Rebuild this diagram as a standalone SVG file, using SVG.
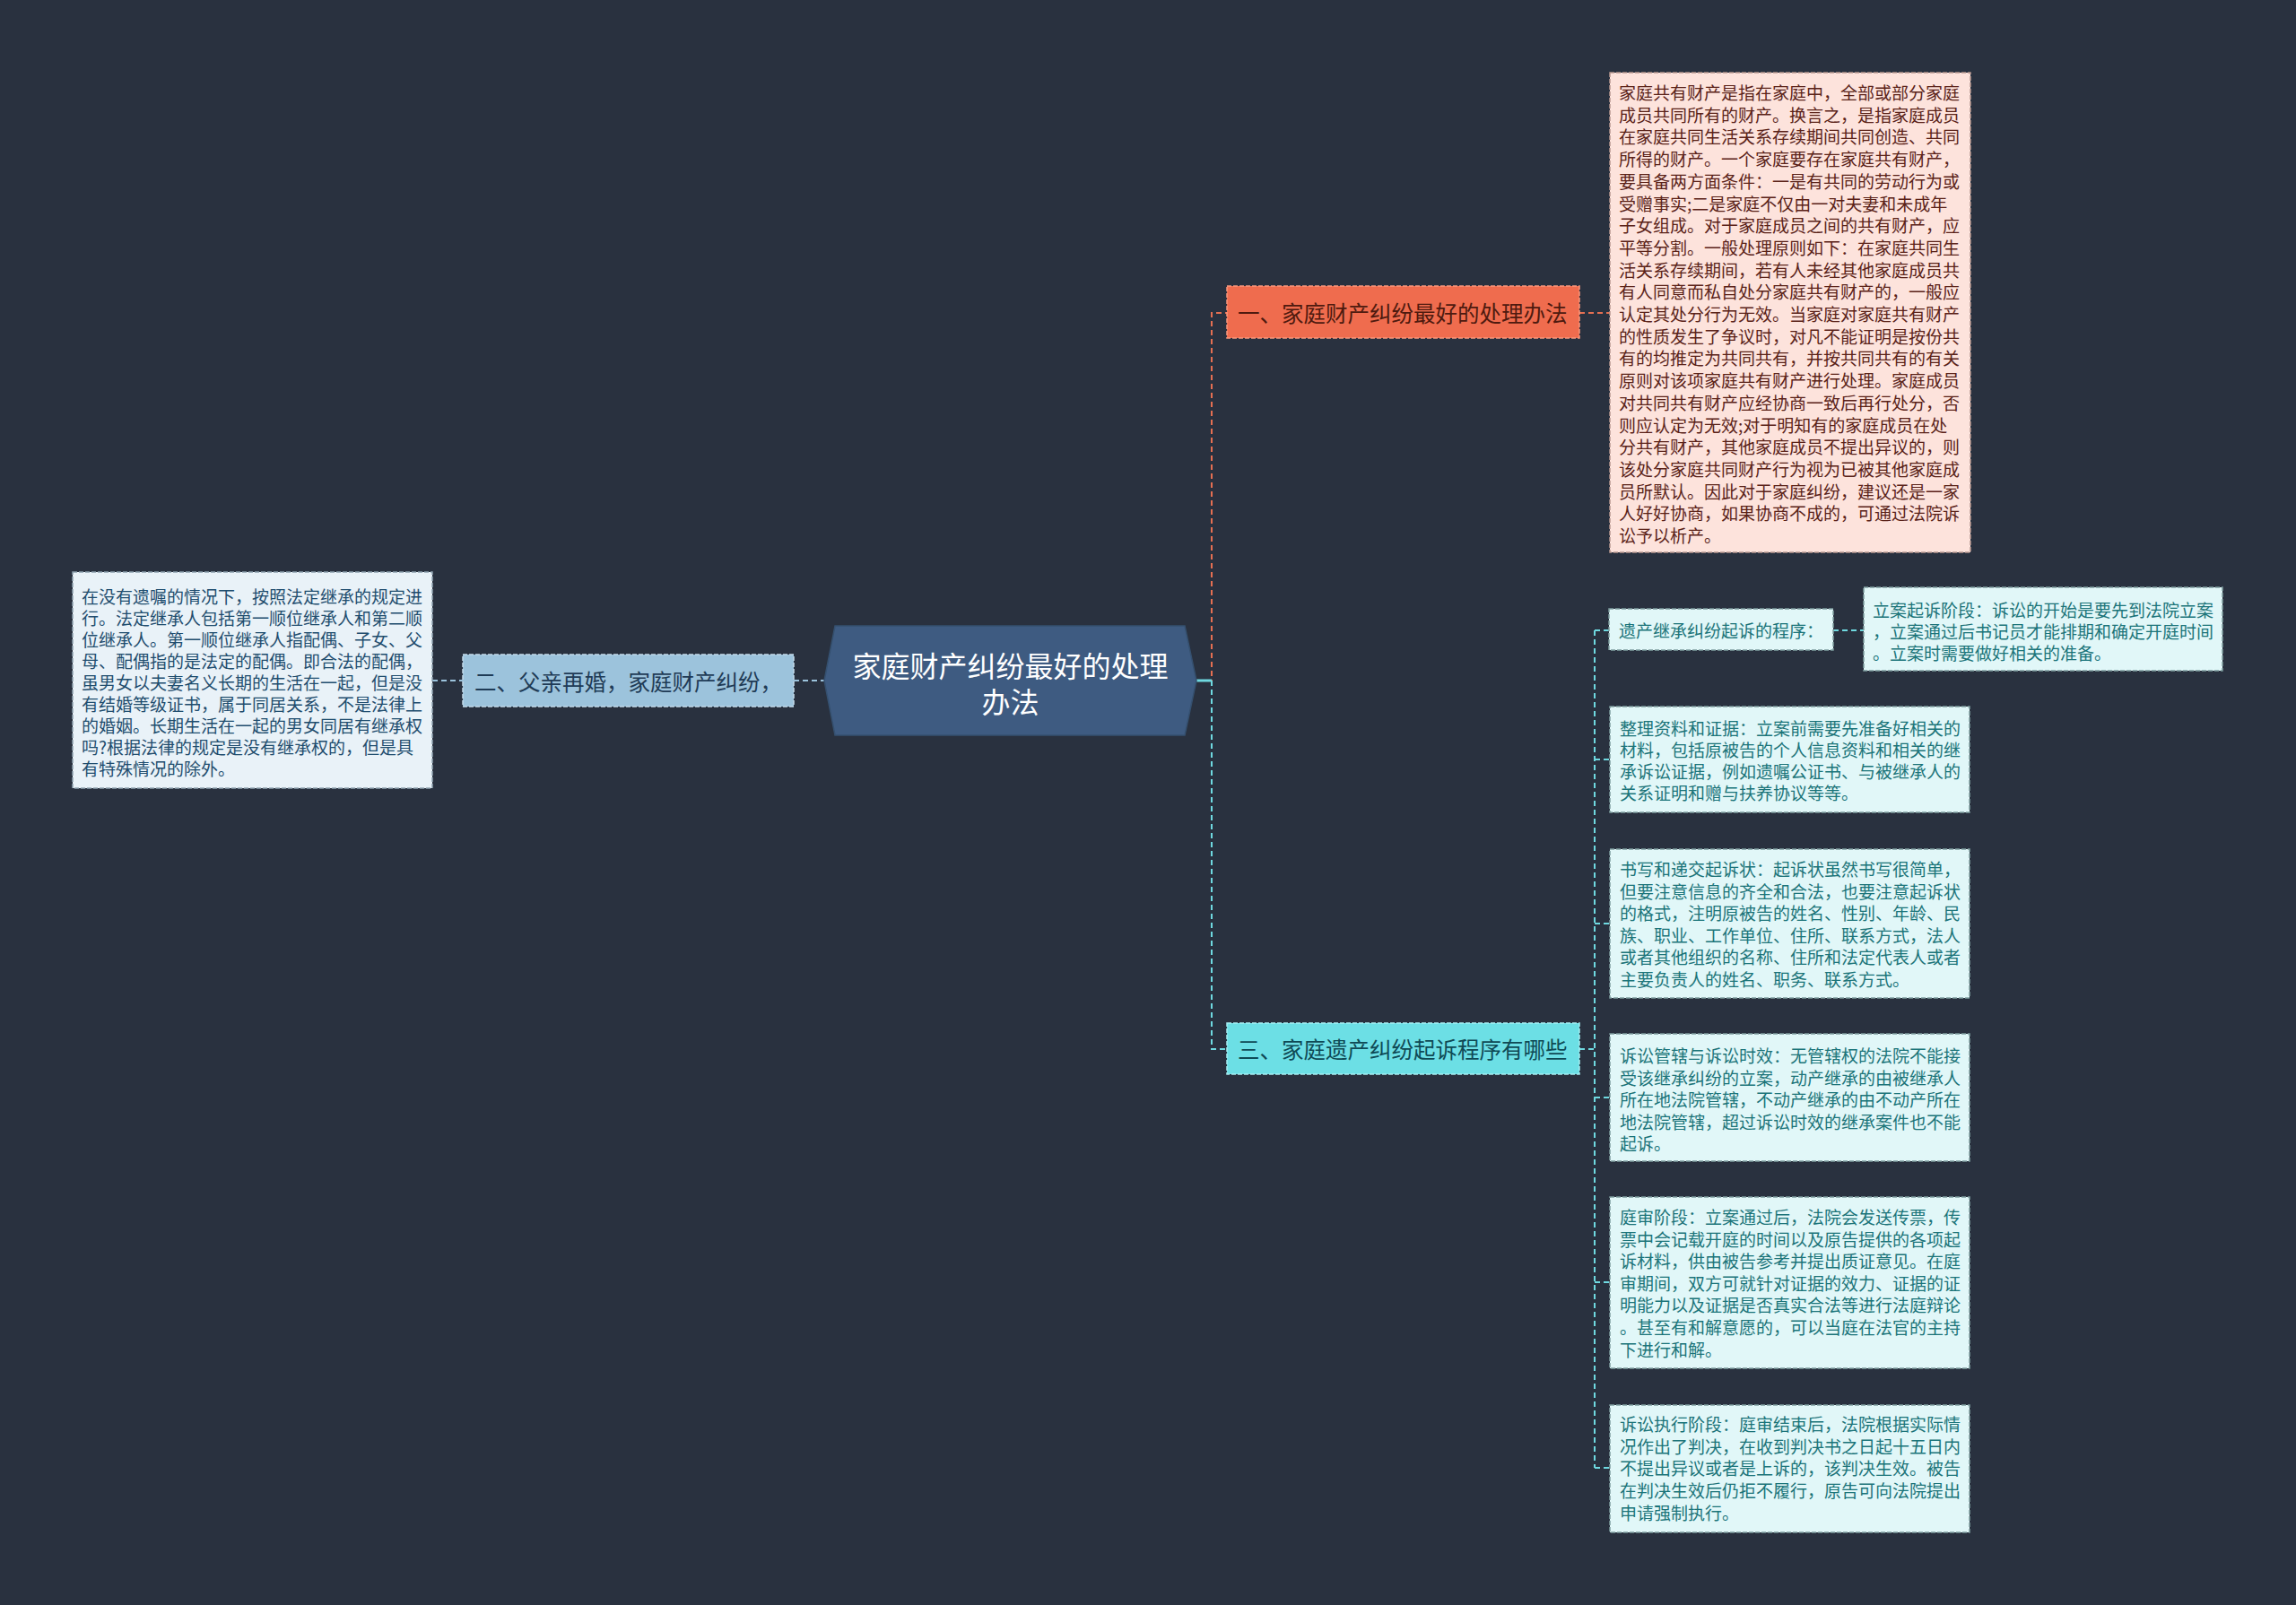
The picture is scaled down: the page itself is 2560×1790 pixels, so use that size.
<svg xmlns="http://www.w3.org/2000/svg" width="2560" height="1790" viewBox="0 0 2560 1790">
<style>
text{font-family:"Noto Sans CJK SC","Noto Sans",sans-serif;dominant-baseline:central}
.leaf{font-size:19px}
.pinkt{fill:#5a2218}
.cyant{fill:#1b7479}
.bluet{fill:#1f4d6e}
.box{stroke-dasharray:5 2;stroke-width:1.5}
.pink{fill:#fde3dc;stroke:#b89890}
.cyan{fill:#e1f7f8;stroke:#7f9ea0}
.lblue{fill:#e9f2f8;stroke:#8fa2b0}
.con{fill:none;stroke-width:2;stroke-dasharray:6 4}
</style>
<rect width="2560" height="1790" fill="#29313f"/>
<g id="connectors">
<path class="con" stroke="#e46f52" d="M1336 759 H1351 V349 H1368"/>
<path class="con" stroke="#6fd9e0" d="M1351 759 V1170 H1368"/>
<path fill="none" stroke="#6fd9e0" stroke-width="3" d="M1334 759 H1351"/>
<path class="con" stroke="#e46f52" d="M1761 349 H1795"/>
<path class="con" stroke="#9cc3dc" stroke-width="3" d="M885 759 H919"/>
<path class="con" stroke="#9cc3dc" d="M482 759 H516"/>
<path class="con" stroke="#6fd9e0" d="M1761 1170 H1778 M1778 703 V1637 M1778 703 H1794 M2044 703 H2078 M1778 847 H1795 M1778 1030 H1795 M1778 1224 H1795 M1778 1430 H1795 M1778 1637 H1795"/>
</g>
<g id="root">
<polygon points="931,698 1321,698 1334,759 1321,820 931,820 919,759" fill="#3e5b81" stroke="#35506f" stroke-width="1.5"/>
<text x="1126.5" y="741" font-size="32" fill="#ffffff" text-anchor="middle">家庭财产纠纷最好的处理</text>
<text x="1126.5" y="781" font-size="32" fill="#ffffff" text-anchor="middle">办法</text>
</g>
<g id="node1">
<rect x="1368" y="319" width="393" height="58" fill="#ef6c4e" stroke="#f7987f" class="box"/>
<text x="1380" y="348" font-size="24.5" fill="#4e1a0f">一、家庭财产纠纷最好的处理办法</text>
</g>
<g id="node1-detail">
<rect x="1795" y="81" width="402" height="535" class="box pink"/>
<text class="leaf pinkt">
<tspan x="1805" y="102">家庭共有财产是指在家庭中，全部或部分家庭</tspan>
<tspan x="1805" y="126.7">成员共同所有的财产。换言之，是指家庭成员</tspan>
<tspan x="1805" y="151.4">在家庭共同生活关系存续期间共同创造、共同</tspan>
<tspan x="1805" y="176.1">所得的财产。一个家庭要存在家庭共有财产，</tspan>
<tspan x="1805" y="200.8">要具备两方面条件：一是有共同的劳动行为或</tspan>
<tspan x="1805" y="225.5">受赠事实;二是家庭不仅由一对夫妻和未成年</tspan>
<tspan x="1805" y="250.2">子女组成。对于家庭成员之间的共有财产，应</tspan>
<tspan x="1805" y="274.9">平等分割。一般处理原则如下：在家庭共同生</tspan>
<tspan x="1805" y="299.6">活关系存续期间，若有人未经其他家庭成员共</tspan>
<tspan x="1805" y="324.3">有人同意而私自处分家庭共有财产的，一般应</tspan>
<tspan x="1805" y="349">认定其处分行为无效。当家庭对家庭共有财产</tspan>
<tspan x="1805" y="373.7">的性质发生了争议时，对凡不能证明是按份共</tspan>
<tspan x="1805" y="398.4">有的均推定为共同共有，并按共同共有的有关</tspan>
<tspan x="1805" y="423.1">原则对该项家庭共有财产进行处理。家庭成员</tspan>
<tspan x="1805" y="447.8">对共同共有财产应经协商一致后再行处分，否</tspan>
<tspan x="1805" y="472.5">则应认定为无效;对于明知有的家庭成员在处</tspan>
<tspan x="1805" y="497.2">分共有财产，其他家庭成员不提出异议的，则</tspan>
<tspan x="1805" y="521.9">该处分家庭共同财产行为视为已被其他家庭成</tspan>
<tspan x="1805" y="546.6">员所默认。因此对于家庭纠纷，建议还是一家</tspan>
<tspan x="1805" y="571.3">人好好协商，如果协商不成的，可通过法院诉</tspan>
<tspan x="1805" y="596">讼予以析产。</tspan>
</text>
</g>
<g id="node2">
<rect x="516" y="730" width="369" height="58" fill="#9cc3dc" stroke="#c4dcec" class="box"/>
<text x="529" y="759" font-size="24.5" fill="#1f3b56">二、父亲再婚，家庭财产纠纷，</text>
</g>
<g id="node2-detail">
<rect x="81" y="638" width="401" height="241" class="box lblue"/>
<text class="leaf bluet">
<tspan x="91" y="664">在没有遗嘱的情况下，按照法定继承的规定进</tspan>
<tspan x="91" y="688">行。法定继承人包括第一顺位继承人和第二顺</tspan>
<tspan x="91" y="712">位继承人。第一顺位继承人指配偶、子女、父</tspan>
<tspan x="91" y="736">母、配偶指的是法定的配偶。即合法的配偶，</tspan>
<tspan x="91" y="760">虽男女以夫妻名义长期的生活在一起，但是没</tspan>
<tspan x="91" y="784">有结婚等级证书，属于同居关系，不是法律上</tspan>
<tspan x="91" y="808">的婚姻。长期生活在一起的男女同居有继承权</tspan>
<tspan x="91" y="832">吗?根据法律的规定是没有继承权的，但是具</tspan>
<tspan x="91" y="856">有特殊情况的除外。</tspan>
</text>
</g>
<g id="node3">
<rect x="1368" y="1141" width="393" height="57" fill="#6cdfe5" stroke="#a5eef2" class="box"/>
<text x="1380" y="1169" font-size="24.5" fill="#0f4a55">三、家庭遗产纠纷起诉程序有哪些</text>
</g>
<g id="node3-1">
<rect x="1794" y="679" width="250" height="46" class="box cyan"/>
<text x="1805" y="702" class="leaf cyant">遗产继承纠纷起诉的程序：</text>
</g>
<g id="node3-1-1">
<rect x="2078" y="655" width="400" height="93" class="box cyan"/>
<text class="leaf cyant">
<tspan x="2088" y="679">立案起诉阶段：诉讼的开始是要先到法院立案</tspan>
<tspan x="2088" y="703">，立案通过后书记员才能排期和确定开庭时间</tspan>
<tspan x="2088" y="727">。立案时需要做好相关的准备。</tspan>
</text>
</g>
<g id="node3-2">
<rect x="1795" y="788" width="401" height="118" class="box cyan"/>
<text class="leaf cyant">
<tspan x="1806" y="811">整理资料和证据：立案前需要先准备好相关的</tspan>
<tspan x="1806" y="835">材料，包括原被告的个人信息资料和相关的继</tspan>
<tspan x="1806" y="859">承诉讼证据，例如遗嘱公证书、与被继承人的</tspan>
<tspan x="1806" y="883">关系证明和赠与扶养协议等等。</tspan>
</text>
</g>
<g id="node3-3">
<rect x="1795" y="947" width="401" height="166" class="box cyan"/>
<text class="leaf cyant">
<tspan x="1806" y="968">书写和递交起诉状：起诉状虽然书写很简单，</tspan>
<tspan x="1806" y="992.6">但要注意信息的齐全和合法，也要注意起诉状</tspan>
<tspan x="1806" y="1017.2">的格式，注明原被告的姓名、性别、年龄、民</tspan>
<tspan x="1806" y="1041.8">族、职业、工作单位、住所、联系方式，法人</tspan>
<tspan x="1806" y="1066.4">或者其他组织的名称、住所和法定代表人或者</tspan>
<tspan x="1806" y="1091">主要负责人的姓名、职务、联系方式。</tspan>
</text>
</g>
<g id="node3-4">
<rect x="1795" y="1153" width="401" height="142" class="box cyan"/>
<text class="leaf cyant">
<tspan x="1806" y="1176">诉讼管辖与诉讼时效：无管辖权的法院不能接</tspan>
<tspan x="1806" y="1200.5">受该继承纠纷的立案，动产继承的由被继承人</tspan>
<tspan x="1806" y="1225">所在地法院管辖，不动产继承的由不动产所在</tspan>
<tspan x="1806" y="1249.5">地法院管辖，超过诉讼时效的继承案件也不能</tspan>
<tspan x="1806" y="1274">起诉。</tspan>
</text>
</g>
<g id="node3-5">
<rect x="1795" y="1335" width="401" height="191" class="box cyan"/>
<text class="leaf cyant">
<tspan x="1806" y="1356">庭审阶段：立案通过后，法院会发送传票，传</tspan>
<tspan x="1806" y="1380.6">票中会记载开庭的时间以及原告提供的各项起</tspan>
<tspan x="1806" y="1405.2">诉材料，供由被告参考并提出质证意见。在庭</tspan>
<tspan x="1806" y="1429.8">审期间，双方可就针对证据的效力、证据的证</tspan>
<tspan x="1806" y="1454.4">明能力以及证据是否真实合法等进行法庭辩论</tspan>
<tspan x="1806" y="1479">。甚至有和解意愿的，可以当庭在法官的主持</tspan>
<tspan x="1806" y="1503.6">下进行和解。</tspan>
</text>
</g>
<g id="node3-6">
<rect x="1795" y="1567" width="401" height="142" class="box cyan"/>
<text class="leaf cyant">
<tspan x="1806" y="1587">诉讼执行阶段：庭审结束后，法院根据实际情</tspan>
<tspan x="1806" y="1611.7">况作出了判决，在收到判决书之日起十五日内</tspan>
<tspan x="1806" y="1636.4">不提出异议或者是上诉的，该判决生效。被告</tspan>
<tspan x="1806" y="1661.1">在判决生效后仍拒不履行，原告可向法院提出</tspan>
<tspan x="1806" y="1685.8">申请强制执行。</tspan>
</text>
</g>
</svg>
